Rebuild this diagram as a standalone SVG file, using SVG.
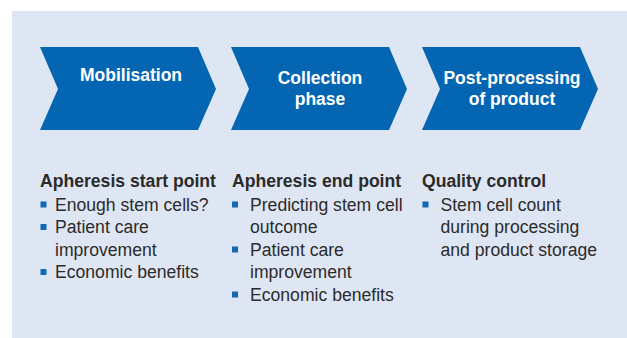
<svg xmlns="http://www.w3.org/2000/svg" width="627" height="338" viewBox="0 0 627 338">
<style>
.chev{fill:#0466B3;}
.ct{font-family:"Liberation Sans",Arial,sans-serif;font-weight:bold;font-size:17.5px;fill:#FFFFFF;text-anchor:middle;}
.hd{font-family:"Liberation Sans",Arial,sans-serif;font-weight:bold;font-size:17.6px;fill:#2B2B2B;}
.tx{font-family:"Liberation Sans",Arial,sans-serif;font-size:17.6px;fill:#2B2B2B;}
.bl{fill:#1169B5;}
</style>
<rect x="0" y="0" width="627" height="338" fill="#FFFFFF"/>
<rect x="12" y="11" width="615" height="327" fill="#DFE6F3"/>
<g id="node-mobilisation">
<polygon class="chev" points="40,47 198,47 216,89 198,130 40,130 58,89"/>
<text class="ct" x="131" y="81">Mobilisation</text>
</g>
<g id="node-collection">
<polygon class="chev" points="231,47 389,47 407,89 389,130 231,130 249,89"/>
<text class="ct" x="320" y="84">Collection</text>
<text class="ct" x="320" y="105">phase</text>
</g>
<g id="node-postprocessing">
<polygon class="chev" points="422,47 580,47 598,89 580,130 422,130 440,89"/>
<text class="ct" x="512" y="84">Post-processing</text>
<text class="ct" x="512" y="105">of product</text>
</g>
<g id="connectors"></g>
<g id="col-start">
<text class="hd" x="40" y="187">Apheresis start point</text>
<rect class="bl" x="40.5" y="201.5" width="6" height="6"/>
<text class="tx" x="55" y="210.5">Enough stem cells?</text>
<rect class="bl" x="40.5" y="224" width="6" height="6"/>
<text class="tx" x="55" y="233">Patient care</text>
<text class="tx" x="55" y="255.5">improvement</text>
<rect class="bl" x="40.5" y="269" width="6" height="6"/>
<text class="tx" x="55" y="278">Economic benefits</text>
</g>
<g id="col-end">
<text class="hd" x="232" y="187">Apheresis end point</text>
<rect class="bl" x="232" y="201.5" width="6" height="6"/>
<text class="tx" x="250" y="210.5">Predicting stem cell</text>
<text class="tx" x="250" y="233">outcome</text>
<rect class="bl" x="232" y="246.5" width="6" height="6"/>
<text class="tx" x="250" y="255.5">Patient care</text>
<text class="tx" x="250" y="278">improvement</text>
<rect class="bl" x="232" y="291.5" width="6" height="6"/>
<text class="tx" x="250" y="300.5">Economic benefits</text>
</g>
<g id="col-quality">
<text class="hd" x="422" y="187">Quality control</text>
<rect class="bl" x="422.5" y="201.5" width="6" height="6"/>
<text class="tx" x="440.5" y="210.5">Stem cell count</text>
<text class="tx" x="440.5" y="233">during processing</text>
<text class="tx" x="440.5" y="255.5">and product storage</text>
</g>
</svg>
